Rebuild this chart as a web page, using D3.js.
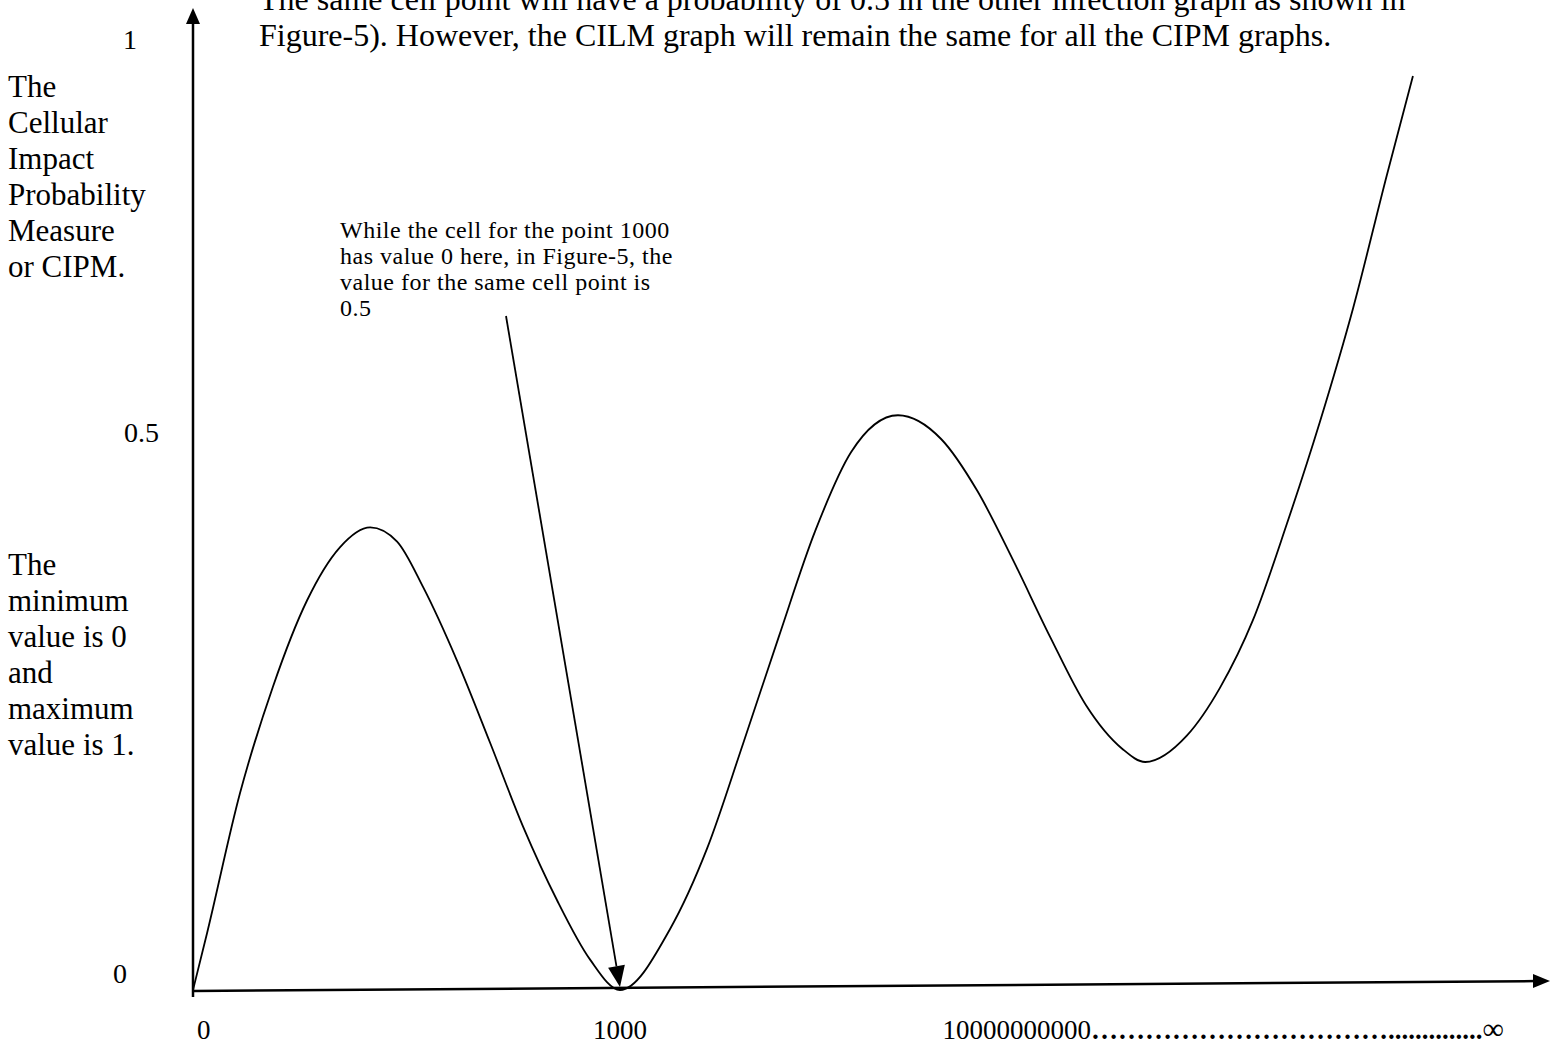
<!DOCTYPE html>
<html>
<head>
<meta charset="utf-8">
<script src="https://cdn.jsdelivr.net/npm/d3@7/dist/d3.min.js"></script>
<style>
  html, body { margin: 0; padding: 0; background: #fff; }
  svg { display: block; }
  text { font-family: "Liberation Serif", "Times New Roman", serif; fill: #000; }
</style>
</head>
<body>
<svg id="chart" width="1561" height="1049"></svg>
<script>
// ---- data ----
const curveX = [0, 33, 110, 187, 267, 344, 415, 478, 539, 618, 696, 773, 852, 930, 1000,
                1117, 1204, 1288, 1372, 1457, 1541, 1651, 1752, 1836, 1920, 2007, 2091, 2176, 2230,
                2328, 2405, 2482, 2562, 2639, 2717, 2796, 2857];
const curveY = [0, 0.060, 0.207, 0.319, 0.410, 0.466, 0.487, 0.472, 0.424, 0.347, 0.260, 0.172, 0.095, 0.032, 0.0,
                0.064, 0.149, 0.259, 0.372, 0.483, 0.566, 0.605, 0.580, 0.526, 0.453, 0.372, 0.300, 0.254, 0.240,
                0.268, 0.318, 0.389, 0.491, 0.598, 0.718, 0.858, 0.962];

const yTickLabels = ["0", "0.5", "1"];
const yTickValues = [0, 0.5, 1];
const xTickLabels = ["0", "1000"];
const xTickValues = [0, 1000];
const xFarLabel = { number: "10000000000", ellipses: 11, periods: 14, end: "\u221E", at: 1755 };

const topText = [
  "The same cell point will have a probability of 0.5 in the other infection graph as shown in",
  "Figure-5). However, the CILM graph will remain the same for all the CIPM graphs."
];
const yTitle = ["The", "Cellular", "Impact", "Probability", "Measure", "or CIPM."];
const yNote = ["The", "minimum", "value is 0", "and", "maximum", "value is 1."];
const annotation = [
  "While the cell for the point 1000",
  "has value 0 here, in Figure-5, the",
  "value for the same cell point is",
  "0.5"
];
const annotationTarget = [1000, 0];

// ---- scales ----
const svg = d3.select("#chart");
const x = d3.scaleLinear().domain([0, 1000]).range([193, 620]);
const y = d3.scaleLinear().domain([0, 1]).range([990, 40]);
// hand-placed tick labels of the sketched axis (not evenly spaced)
const yLabel = d3.scaleLinear().domain([0, 0.5, 1]).range([983, 442, 49]);

// ---- axes ----
const x0 = x(0), y0 = y(0);
const xEnd = 1550;
// y axis
svg.append("line").attr("x1", x0).attr("y1", y0 + 7).attr("x2", x0).attr("y2", 22)
  .attr("stroke", "#000").attr("stroke-width", 2.5);
svg.append("path").attr("d", d3.line()([[x0, 8], [x0 - 7, 24], [x0 + 7, 24]]) + "Z").attr("fill", "#000");
// x axis (slightly tilted as in the sketch)
const tilt = (px) => y0 + 1 - (px - x0) * (10 / (xEnd - x0));
svg.append("line").attr("x1", x0).attr("y1", tilt(x0)).attr("x2", xEnd - 14).attr("y2", tilt(xEnd - 14))
  .attr("stroke", "#000").attr("stroke-width", 2.5);
svg.append("path").attr("d", d3.line()([[xEnd, tilt(xEnd)], [xEnd - 17, tilt(xEnd) - 7], [xEnd - 17, tilt(xEnd) + 7]]) + "Z")
  .attr("fill", "#000");

// ---- curve ----
const pts = curveX.map((v, i) => [x(v), y(curveY[i])]);
svg.append("path")
  .attr("d", d3.line().curve(d3.curveMonotoneX)(pts))
  .attr("fill", "none").attr("stroke", "#000").attr("stroke-width", 1.8);

// ---- tick labels ----
svg.selectAll("text.ytick").data(yTickLabels).join("text")
  .attr("class", "ytick")
  .attr("x", (d, i) => [127, 159, 137][i]).attr("y", (d, i) => yLabel(yTickValues[i]))
  .attr("text-anchor", "end")
  .attr("font-size", 28)
  .text(d => d);

svg.selectAll("text.xtick").data(xTickLabels).join("text")
  .attr("class", "xtick")
  .attr("x", (d, i) => x(xTickValues[i]))
  .attr("y", 1039)
  .attr("text-anchor", (d, i) => i === 0 ? "start" : "middle")
  .attr("dx", (d, i) => i === 0 ? 4 : 0)
  .attr("font-size", 27)
  .text(d => d);

const far = svg.append("text").attr("x", x(xFarLabel.at)).attr("y", 1039).attr("font-size", 27);
far.append("tspan").text(xFarLabel.number);
far.append("tspan").attr("font-weight", "bold").text("\u2026".repeat(xFarLabel.ellipses));
far.append("tspan").attr("font-weight", "bold").text(".".repeat(xFarLabel.periods));
far.append("tspan").attr("font-size", 30).text(xFarLabel.end);

// ---- texts ----
const tt = svg.append("text").attr("font-size", 32);
topText.forEach((t, i) => tt.append("tspan").attr("x", 259).attr("y", 10 + i * 36).text(t));

const yt = svg.append("text").attr("font-size", 31);
yTitle.forEach((t, i) => yt.append("tspan").attr("x", 8).attr("y", 97 + i * 36).text(t));

const yn = svg.append("text").attr("font-size", 31);
yNote.forEach((t, i) => yn.append("tspan").attr("x", 8).attr("y", 575 + i * 36).text(t));

const an = svg.append("text").attr("font-size", 24).attr("letter-spacing", 0.5);
annotation.forEach((t, i) => an.append("tspan").attr("x", 340).attr("y", 238 + i * 26).text(t));

// ---- annotation arrow ----
const tx = x(annotationTarget[0]), ty = y(annotationTarget[1]) - 3;
const sx = 506, sy = 316;
const ang = Math.atan2(ty - sy, tx - sx);
const hl = 21, hw = 8.5;
const bx = tx - hl * Math.cos(ang), by = ty - hl * Math.sin(ang);
svg.append("line").attr("x1", sx).attr("y1", sy).attr("x2", bx).attr("y2", by)
  .attr("stroke", "#000").attr("stroke-width", 1.8);
svg.append("path").attr("d", d3.line()([
  [tx, ty],
  [bx + hw * Math.sin(ang), by - hw * Math.cos(ang)],
  [bx - hw * Math.sin(ang), by + hw * Math.cos(ang)]
]) + "Z").attr("fill", "#000");
</script>
</body>
</html>
